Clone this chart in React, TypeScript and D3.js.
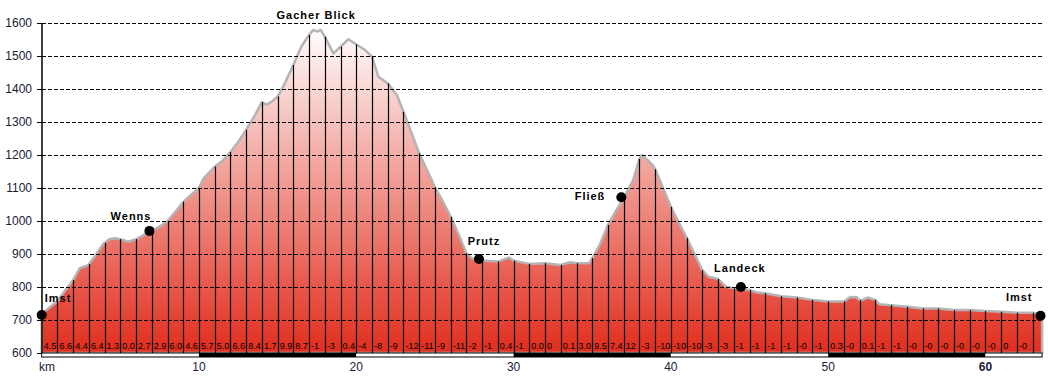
import React from "react";
import * as d3 from "d3";

// ---------- data ----------
const profileKm = [0, 0.5, 1, 1.5, 2, 2.42, 2.95, 3.4, 3.9, 4.3, 4.65, 5, 5.5, 6, 6.4, 6.66, 7, 7.5, 8, 8.5, 9, 9.5, 10, 10.3, 10.7, 11, 11.44, 12, 12.5, 13, 13.56, 14, 14.3, 14.6, 15, 15.35, 16, 16.5, 17, 17.27, 17.5, 17.74, 18, 18.55, 19, 19.5, 20, 20.56, 21, 21.4, 22, 22.58, 23, 23.5, 24, 24.7, 25, 25.5, 26, 26.5, 27, 27.35, 28, 29, 29.7, 30, 31, 32, 33, 33.6, 34, 34.8, 35.1, 35.5, 36, 36.5, 37, 37.6, 38, 38.15, 38.5, 38.9, 39.05, 39.5, 40, 40.5, 41, 41.5, 42, 42.4, 43, 43.5, 44, 44.5, 45, 45.5, 46, 47, 48, 49, 50, 51, 51.4, 51.8, 52.05, 52.5, 53, 53.25, 54, 55, 56, 57, 58, 59, 60, 61, 62, 63, 63.6];
const profileElev = [718, 738, 757, 790, 821, 857, 866, 895, 930, 945, 948, 945, 937, 945, 955, 963, 970, 983, 1000, 1028, 1058, 1080, 1101, 1129, 1150, 1165, 1180, 1209, 1240, 1276, 1321, 1360, 1353, 1361, 1377, 1407, 1473, 1528, 1564, 1579, 1574, 1579, 1558, 1508, 1528, 1551, 1535, 1518, 1498, 1437, 1417, 1382, 1331, 1268, 1205, 1134, 1102, 1060, 1013, 960, 902, 887, 880, 877, 889, 880, 870, 872, 867, 875, 872, 872, 895, 930, 988, 1030, 1070, 1124, 1188, 1200, 1186, 1166, 1152, 1100, 1043, 995, 949, 900, 851, 831, 824, 801, 796, 795, 791, 783, 781, 772, 768, 761, 756, 756, 770, 769, 758, 768, 761, 748, 745, 740, 735, 735, 730, 730, 727, 725, 722, 722, 715];

const gradeLabels = ["4.5", "6.6", "4.4", "6.4", "1.3", "0.0", "2.7", "2.9", "6.0", "4.6", "5.7", "5.0", "6.6", "8.4", "1.7", "9.9", "8.7", "-1", "-3", "0.4", "-4", "-8", "-9", "-12", "-11", "-9", "-11", "-2", "-1", "0.4", "-1", "0.0", "0", "0.1", "3.0", "9.5", "7.4", "12", "-3", "-10", "-10", "-10", "-3", "-3", "-1", "-1", "-1", "-1", "-0", "-1", "0.3", "-0", "0.1", "-1", "-1", "-0", "-0", "-0", "-0", "-0", "-0", "0", "-0"];

const yTicks = [600, 700, 800, 900, 1000, 1100, 1200, 1300, 1400, 1500, 1600];
const xTicks = [10, 20, 30, 40, 50, 60];

const wpNames = ["Imst", "Wenns", "Gacher Blick", "Prutz", "Fließ", "Landeck", "Imst"];
const wpKm = [0, 6.85, 17.45, 27.8, 36.85, 44.45, 63.5];
const wpElev = [715, 970, 1582, 885, 1072, 800, 713];
const wpHasDot = [true, true, false, true, true, true, true];

// label layout (offsets from the waypoint point)
const wpLabelLayout = [
  { dx: 3, dy: -13, anchor: "start" },
  { dx: 2, dy: -11, anchor: "end" },
  { dx: 0, dy: -10, anchor: "middle" },
  { dx: 5, dy: -14, anchor: "middle" },
  { dx: -16, dy: 3, anchor: "end" },
  { dx: -1, dy: -15, anchor: "middle" },
  { dx: -8, dy: -15, anchor: "end" },
];

const W = 1048;
const H = 378;
const KM_MAX = 63.6;

export default function App() {
  const x = d3.scaleLinear().domain([0, KM_MAX]).range([41.7, 1042.1]);
  const y = d3.scaleLinear().domain([600, 1600]).range([353, 23]);
  const elevAt = d3.scaleLinear().domain(profileKm).range(profileElev);

  const pts = profileKm.map((k, i) => [k, profileElev[i]] as [number, number]);
  const area = d3
    .area<[number, number]>()
    .x((d) => x(d[0]))
    .y0(y(600))
    .y1((d) => y(d[1]));

  const kmLines = d3.range(1, Math.floor(KM_MAX) + 1);
  const font = "'Liberation Sans', Arial, sans-serif";
  const segs = d3.range(0, KM_MAX, 10);

  return (
    <svg
      width={W}
      height={H}
      style={{ position: "absolute", left: 0, top: 0, background: "#fff" }}
    >
      <defs>
        <linearGradient id="fillGrad" gradientUnits="userSpaceOnUse" x1="0" x2="0" y1={y(1590)} y2={y(600)}>
          <stop offset="0" stopColor="#ffffff" />
          <stop offset="1" stopColor="#e12d1d" />
        </linearGradient>
      </defs>

      {/* area */}
      <path d={area(pts) || ""} fill="url(#fillGrad)" stroke="#b4b4b4" strokeWidth={2.5} strokeLinejoin="round" />

      {/* gridlines */}
      {yTicks.filter((t) => t > 600).map((t) => (
        <line key={"g" + t} x1={42} x2={1042} y1={y(t) + 0.5} y2={y(t) + 0.5} stroke="#000" strokeWidth={1} strokeDasharray="4,2" />
      ))}

      {/* km vertical lines */}
      {kmLines.map((k) => (
        <line key={"v" + k} x1={Math.round(x(k)) + 0.5} x2={Math.round(x(k)) + 0.5} y1={y(elevAt(k))} y2={y(600)} stroke="#000" strokeWidth={1.2} />
      ))}

      {/* grade labels */}
      {gradeLabels.map((g, i) => (
        <text key={"t" + i} x={x(i) + 2} y={349} fontFamily={font} fontSize={9} fill="#000">
          {g}
        </text>
      ))}

      {/* y axis */}
      <line x1={42} x2={42} y1={y(1600)} y2={y(600)} stroke="#000" strokeWidth={1.5} />
      {yTicks.map((t) => (
        <g key={"y" + t}>
          <line x1={37} x2={42} y1={y(t) + 0.5} y2={y(t) + 0.5} stroke="#000" />
          <text x={32} y={y(t)} dy="0.35em" textAnchor="end" fontFamily={font} fontSize={12} fill="#1a1a3a">
            {t}
          </text>
        </g>
      ))}

      {/* x axis bar */}
      {segs.map((s, i) => (
        <rect key={"s" + s} x={x(s)} y={353} width={x(Math.min(s + 10, KM_MAX)) - x(s)} height={4} fill={i % 2 === 0 ? "#fff" : "#000"} />
      ))}
      <rect x={x(0)} y={353} width={x(KM_MAX) - x(0)} height={4} fill="none" stroke="#000" strokeWidth={1} />
      <text x={47} y={371} textAnchor="middle" fontFamily={font} fontSize={12} fill="#1a1a3a">km</text>
      {xTicks.map((t) => (
        <text key={"x" + t} x={x(t)} y={371} textAnchor="middle" fontFamily={font} fontSize={12} fontWeight={t === 60 ? "bold" : "normal"} fill="#1a1a3a">
          {t}
        </text>
      ))}

      {/* waypoints */}
      {wpNames.map((n, i) => {
        const px = x(wpKm[i]);
        const py = y(wpElev[i]);
        const L = wpLabelLayout[i];
        return (
          <g key={"w" + i}>
            {wpHasDot[i] && <circle cx={px} cy={py} r={5} fill="#000" />}
            <text x={px + L.dx} y={py + L.dy} textAnchor={L.anchor as any} fontFamily={font} fontSize={11} fontWeight="bold" letterSpacing={1} fill="#000">
              {n}
            </text>
          </g>
        );
      })}
    </svg>
  );
}
